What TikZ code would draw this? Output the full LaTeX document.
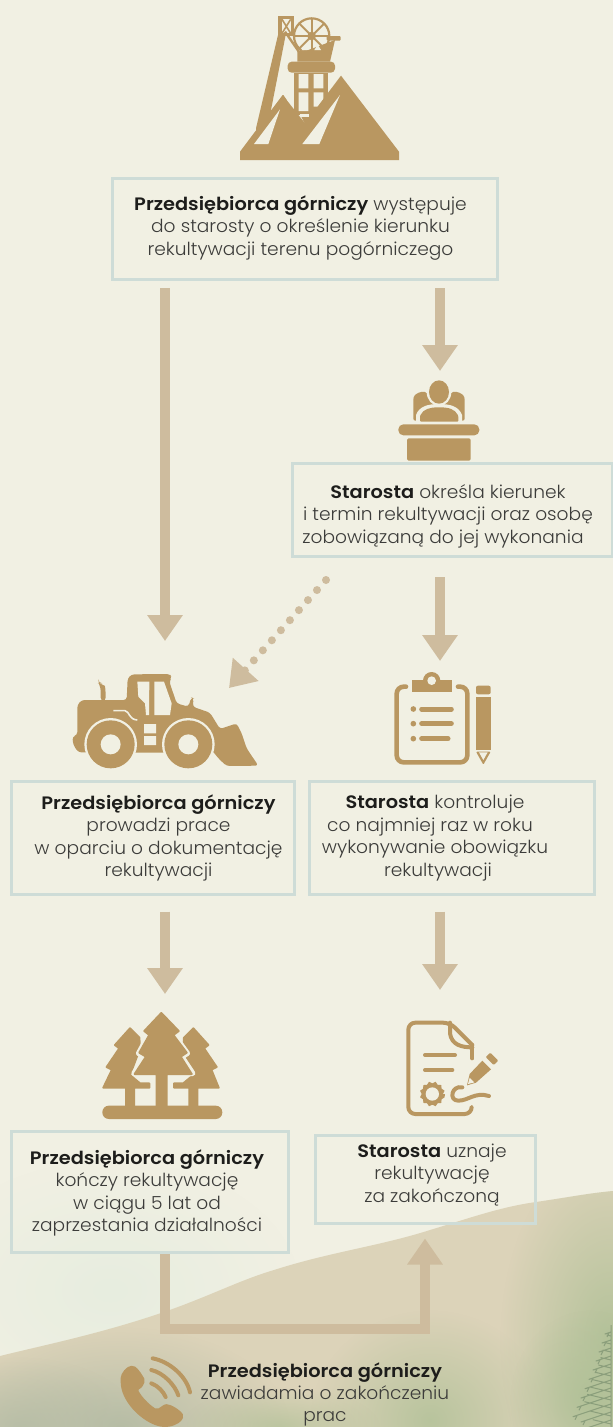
\documentclass[tikz,border=0pt]{standalone}
\usepackage{fontspec}
\setmainfont{Poppins}[UprightFont=* Light,BoldFont=* SemiBold,UprightFeatures={FakeStretch=1.035},BoldFeatures={FakeStretch=1.075}]
\usetikzlibrary{arrows.meta,fadings,calc}
\definecolor{bgc}{HTML}{F1F0E3}
\definecolor{gold}{HTML}{B99761}
\definecolor{arrc}{HTML}{CEBC9E}
\definecolor{boxc}{HTML}{CEDCD7}
\definecolor{txt}{HTML}{3C3C3A}
\definecolor{txtb}{HTML}{1D1D1B}
\definecolor{hillc}{HTML}{DCD3B9}
\definecolor{mist}{HTML}{E6EDDF}
\definecolor{sage}{HTML}{AFC096}
\definecolor{greyg}{HTML}{B3BBA4}
\definecolor{pine}{HTML}{4F6B50}
\tikzfading[name=blob,inner color=transparent!0,outer color=transparent!100]
\tikzset{
  flowbox/.style={draw=boxc,line width=3pt,inner sep=0pt},
  label/.style={inner sep=0pt,align=center,font=\fontsize{18}{22.6}\selectfont,text=txt},
  label2/.style={inner sep=0pt,align=center,font=\fontsize{18}{22}\selectfont,text=txt},
  icon/.style={inner sep=0pt,outer sep=0pt},
  arr/.style={draw=arrc,line width=10.5pt,-{Triangle[width=34pt,length=26pt]}},
  dots/.style={draw=arrc,line width=8pt,line cap=round,dash pattern=on 0pt off 13.5pt,-{Triangle[width=33pt,length=25pt]}},
  cut/.style={fill=bgc,draw=none},
  haze/.style={draw=none,path fading=blob},
}
\newcommand{\bt}[1]{{\bfseries\color{txtb}#1}}
\begin{document}
\begin{tikzpicture}[x=1pt,y=-1pt]
\useasboundingbox (0,0) rectangle (613,1427);
% background
\fill[bgc] (0,0) rectangle (613,1427);
\fill[mist,opacity=.9,haze] (110,1290) ellipse (190 and 130);
% hill
\begin{scope}
\clip (0,1356) .. controls (40,1346) and (100,1334) .. (164,1312) .. controls (210,1296) and (240,1280) .. (274,1270) .. controls (330,1252) and (380,1246) .. (430,1230) .. controls (470,1218) and (500,1207) .. (536,1202) .. controls (570,1197) and (590,1193) .. (613,1191) -- (613,1427) -- (0,1427) -- cycle;
\fill[hillc] (0,1180) rectangle (613,1427);
\fill[greyg,opacity=.9,haze] (120,1427) ellipse (170 and 100);
\fill[greyg,opacity=.8,haze] (20,1427) ellipse (120 and 70);
\fill[sage,opacity=.8,haze] (430,1420) ellipse (120 and 110);
\fill[sage,opacity=.7,haze] (280,1427) ellipse (100 and 40);
\fill[sage,opacity=.9,haze] (610,1340) ellipse (110 and 190);
\fill[sage,opacity=.9,haze] (590,1400) ellipse (80 and 90);
\draw[pine,opacity=.4,line width=1pt,line join=round]
  (611,1325) -- (611,1427)
  \foreach \y/\l in {1332/6,1340/9,1348/12,1356/15,1364/18,1372/22,1380/26,1388/30,1396/34,1404/38,1412/30,1420/26}{
    (611,\y) -- ++(-\l,\l/3) -- ++(4,-1) -- ++(-2,4)
    (611,\y+4) -- ++(-\l*0.7,-\l/6) };
\end{scope}

% boxes
\node[flowbox,minimum width=385pt,minimum height=101pt] (b1) at (304.5,228.5) {};
\node[flowbox,minimum width=320pt,minimum height=93pt] (b2) at (452,510) {};
\node[flowbox,minimum width=283pt,minimum height=113pt] (b3) at (153,838) {};
\node[flowbox,minimum width=285pt,minimum height=113pt] (b4) at (452,838) {};
\node[flowbox,minimum width=277pt,minimum height=121pt] (b5) at (150,1192) {};
\node[flowbox,minimum width=220pt,minimum height=88pt] (b6) at (425,1179) {};

% box texts
\node[label] (t1) at ($(b1)+(-4,-0.5)$)
 {\bt{Przedsiębiorca górniczy} występuje\\do starosty o określenie kierunku\\rekultywacji terenu pogórniczego};
\node[label] (t2) at ($(b2)+(-4,6)$)
 {\bt{Starosta} określa kierunek\\i termin rekultywacji oraz osobę\\\hspace*{-10pt}zobowiązaną do jej wykonania};
\node[label] (t3) at ($(b3)+(5.5,0)$)
 {\bt{Przedsiębiorca górniczy}\\prowadzi prace\\w oparciu o dokumentację\\rekultywacji};
\node[label] (t4) at ($(b4)+(-17,0)$)
 {\bt{Starosta} kontroluje\\\hspace*{-10pt}co najmniej raz w roku\\wykonywanie obowiązku\\\hspace*{6pt}rekultywacji};
\node[label] (t5) at ($(b5)+(-3,1)$)
 {\bt{Przedsiębiorca górniczy}\\kończy rekultywację\\w ciągu 5 lat od\\zaprzestania działalności};
\node[label] (t6) at ($(b6)+(7,-4)$)
 {\bt{Starosta} uznaje\\rekultywację\\za zakończoną};
\node[label2] (t7) at (325,1394)
 {\bt{Przedsiębiorca górniczy}\\zawiadamia o zakończeniu\\prac};

% icon anchors
\node[icon,minimum width=161pt,minimum height=145pt] (mine) at (320,87) {};
\node[icon,minimum width=80pt,minimum height=82pt] (bench) at (440,421) {};
\node[icon,minimum width=186pt,minimum height=96pt] (loader) at (165,720) {};
\node[icon,minimum width=100pt,minimum height=93pt] (clip) at (440,718.5) {};
\node[icon,minimum width=120pt,minimum height=107pt] (trees) at (165,1065.5) {};
\node[icon,minimum width=95pt,minimum height=95pt] (cert) at (440,1067.5) {};
\node[icon,minimum width=60pt,minimum height=70pt] (phone) at (155,1392) {};

% connectors
\draw[arr,shorten <=7.5pt,shorten >=31pt] (b1.south -| loader.north) -- (loader.north);
\draw[arr,shorten <=7.5pt,shorten >=9pt] (b1.south -| bench.north) -- (bench.north);
\draw[arr,shorten <=19pt,shorten >=11pt] (b2.south -| clip.north) -- (clip.north);
\draw[arr,shorten <=15.5pt,shorten >=18pt] (b3.south -| trees.north) -- (trees.north);
\draw[arr,shorten <=15.5pt,shorten >=30pt] (b4.south -| cert.north) -- (cert.north);
\coordinate (dfrom) at (326,580);
\coordinate (dto) at (229,688);
\draw[dots] (dfrom) -- (dto);
\coordinate (e1) at (165,1329);
\coordinate (e2) at (425,1329);
\draw[arr,shorten >=14pt] (b5.south -| e1) -- (e1) -- (e2) -- (b6.south -| e2);

% mine icon
\begin{scope}[shift={(220,0)},scale=1/3]
 \fill[gold] (222,218) rectangle (325,345);
 \fill[gold] (236,335) -- (310,335) -- (255,372) -- cycle;
 \fill[cut] (236,222) rectangle (265,265) (281,222) rectangle (310,265) (236,277) rectangle (265,333) (281,277) rectangle (310,320);
 \fill[cut] (240,342) rectangle (268,352);
 \draw[gold,line width=2.2pt] (275,108) circle (53);
 \foreach \a in {0,45,...,315} \draw[gold,line width=2pt] (275,108) -- ++(\a:53);
 \fill[gold] (275,108) circle (13);
 \fill[gold] (232,152) -- (265,150) -- (345,120) -- (330,185) -- (232,185) -- cycle;
 \fill[cut] (245,150) -- (262,150) -- (254,136) -- cycle;
 \fill[cut] (283,150) -- (303,150) -- (293,134) -- cycle;
 \fill[gold,rounded corners=1pt] (320,108) rectangle (362,122);
 \fill[gold,rounded corners=4pt] (203,185) rectangle (345,218);
 \fill[gold] (175,48) rectangle (222,108);
 \fill[cut] (186,58) rectangle (212,100);
 \draw[gold,line width=1.6pt] (186,58) -- (212,100) (212,58) -- (186,100);
 \draw[gold,line width=2.4pt] (195,95) -- (240,160);
 \fill[gold] (174,105) -- (197,105) -- (152,335) -- (190,285) -- (200,300) -- (110,430) -- (108,385) -- cycle;
 \fill[gold] (60,480) -- (60,455) -- (188,285) -- (255,370) -- (363,227) -- (537,455) -- (537,480) -- cycle;
 \fill[cut] (102,432) -- (145,432) -- (180,328) -- cycle;
 \fill[cut] (247,432) -- (298,432) -- (360,285) -- cycle;
\end{scope}

% bench icon
\begin{scope}[shift={(380,370)},scale=1/3]
 \fill[gold,rounded corners=2pt] (100,152) -- (100,88) .. controls (102,72) and (125,62) .. (140,68) -- (177,110) -- (120,152) -- cycle;
 \fill[gold,rounded corners=2pt] (254,152) -- (254,88) .. controls (252,72) and (229,62) .. (214,68) -- (177,110) -- (234,152) -- cycle;
 \fill[bgc] (108,156) -- (108,135) .. controls (118,108) and (145,102) .. (177,102) .. controls (209,102) and (236,108) .. (246,135) -- (246,156) -- cycle;
 \fill[gold,rounded corners=1pt] (120,155) -- (120,138) .. controls (130,117) and (150,112) .. (177,112) .. controls (205,112) and (225,117) .. (235,138) -- (235,155) -- cycle;
 \fill[bgc] (177,66) ellipse (37 and 42);
 \fill[gold] (177,66) ellipse (30 and 35);
 \fill[gold,rounded corners=5pt] (55,163) rectangle (298,196);
 \fill[gold,rounded corners=1.5pt] (81,205) rectangle (272,272);
\end{scope}

% loader icon
\begin{scope}[shift={(60,660)},scale=1/3]
 \fill[gold,rounded corners=4pt] (115,70) -- (125,70) .. controls (135,78) and (137,90) .. (137,125) -- (122,125) .. controls (122,95) and (122,85) .. (115,70) -- cycle;
 \fill[gold,rounded corners=3pt] (52,225) -- (52,135) -- (65,120) -- (200,120) -- (203,55) -- (215,43) -- (330,42) -- (335,52) -- (328,65) -- (350,130) -- (385,140) -- (394,112) -- (401,115) -- (398,140) -- (450,158) -- (480,207) -- (530,190) -- (545,220) -- (560,265) -- (595,317) -- (500,318) -- (478,298) -- (455,270) -- (300,278) -- (55,277) -- (40,255) -- (37,230) -- cycle;
 \fill[cut] (232,65) -- (268,65) -- (267,165) -- (258,165) -- (255,130) -- (235,110) -- cycle;
 \fill[cut] (283,65) -- (312,65) -- (335,130) -- (330,165) -- (283,165) -- cycle;
 \fill[cut] (252,192) rectangle (288,220) (252,228) rectangle (288,255);
 \draw[bgc,line width=1.6pt] (160,152) -- (195,152) .. controls (210,155) and (205,178) .. (232,180);
 \fill[bgc] (152,253) circle (79);
 \fill[bgc] (385,253) circle (79);
 \fill[gold] (152,253) circle (72);
 \fill[gold] (385,253) circle (72);
 \fill[bgc] (152,253) circle (30);
 \fill[bgc] (385,253) circle (30);
\end{scope}

% clipboard icon
\begin{scope}[shift={(380,665)},scale=1/3]
 \draw[gold,line width=4.6pt,line cap=round,rounded corners=7pt] (78,65) -- (50,65) -- (50,292) -- (262,292) -- (262,65) -- (234,65);
 \fill[gold] (97,45) rectangle (215,82);
 \fill[gold] (155,47) circle (26);
 \fill[bgc] (155,47) circle (13);
 \foreach \y/\e in {132/220,176/220,221/210}{
  \fill[gold] (100,\y) circle (8.5);
  \draw[gold,line width=5pt,line cap=round] (125,\y) -- (\e-6,\y);
 }
 \fill[gold,rounded corners=2pt] (288,62) rectangle (332,88);
 \fill[gold] (288,95) rectangle (332,255);
 \fill[gold,rounded corners=1pt] (288,260) -- (332,260) -- (310,299) -- cycle;
 \fill[bgc] (297,262) -- (323,262) -- (310,285) -- cycle;
\end{scope}

% trees icon
\begin{scope}[shift={(90,1005)},scale=1/3]
 \tikzset{treepath/.style={line join=round,line width=2pt}}
 \filldraw[gold,treepath] (120,70) -- (75,120) -- (88,130) -- (50,186) -- (66,194) -- (40,248) -- (108,248) -- (108,305) -- (132,305) -- (132,248) -- (178,248) -- (178,235) -- (150,235) -- (120,210) -- (150,130) -- (148,98) -- cycle;
 \filldraw[gold,treepath] (310,70) -- (355,120) -- (342,130) -- (380,186) -- (364,194) -- (386,248) -- (322,248) -- (322,305) -- (298,305) -- (298,248) -- (252,248) -- (252,235) -- (280,235) -- (310,210) -- (280,130) -- (282,98) -- cycle;
 \draw[bgc,line width=5.5pt,line join=round,fill=bgc] (214,24) -- (266,78) -- (252,90) -- (292,145) -- (275,155) -- (308,205) -- (232,210) -- (232,305) -- (198,305) -- (198,210) -- (132,205) -- (165,155) -- (146,145) -- (176,90) -- (163,78) -- cycle;
 \filldraw[gold,treepath] (214,24) -- (266,78) -- (250,90) -- (290,143) -- (272,155) -- (305,207) -- (230,207) -- (230,305) -- (200,305) -- (200,207) -- (134,207) -- (168,155) -- (148,143) -- (178,90) -- (163,78) -- cycle;
 \fill[gold,rounded corners=6.5pt] (37,302) rectangle (397,342);
\end{scope}

% certificate icon
\begin{scope}[shift={(395,1010)},scale=1/3]
 \begin{scope}[draw=gold,line width=4pt,line cap=round,line join=round]
 \draw[rounded corners=7pt] (230,292) -- (230,312) -- (40,312) -- (40,38) -- (165,38) -- (232,105);
 \draw (232,105) -- (232,145);
 \draw (165,38) -- (165,70) .. controls (170,105) and (200,112) .. (232,112);
 \draw (90,135) -- (180,135) (90,180) -- (172,180);
 \draw (202,232) .. controls (170,225) and (160,272) .. (190,272) .. controls (220,272) and (240,245) .. (282,258);
 \end{scope}
 \fill[gold] ($(112,252)+(0:38)$) \foreach \a in {15,45,...,345}{ -- ($(112,252)+(\a:38)$) -- ($(112,252)+(\a+15:32)$)} -- cycle;
 \fill[bgc] (112,252) circle (20);
 \fill[gold,rounded corners=1pt] (286,128) -- (310,152) -- (296,165) -- (272,141) -- cycle;
 \fill[gold] (262,152) -- (288,178) -- (243,218) -- (216,226) -- (224,192) -- cycle;
 \fill[bgc] (224,203) -- (238,217) -- (219,222) -- cycle;
\end{scope}

% phone icon
\begin{scope}[shift={(0,1280)},scale=1/3]
 \fill[gold,rounded corners=2pt] (362,300) .. controls (362,280) and (380,258) .. (400,257) .. controls (415,265) and (430,290) .. (436,302) .. controls (430,315) and (425,325) .. (413,328) .. controls (425,350) and (445,372) .. (470,388) .. controls (482,382) and (492,372) .. (505,373) .. controls (525,380) and (545,395) .. (551,408) .. controls (545,425) and (530,436) .. (500,441) .. controls (440,440) and (362,370) .. (362,300) -- cycle;
 \draw[gold,line width=4pt,line cap=round] (458,235) .. controls (510,245) and (560,290) .. (570,337);
 \draw[gold,line width=4pt,line cap=round] (454,270) .. controls (490,278) and (525,315) .. (535,346);
 \draw[gold,line width=4pt,line cap=round] (454,310) .. controls (475,318) and (490,335) .. (497,351);
\end{scope}
\end{tikzpicture}
\end{document}
